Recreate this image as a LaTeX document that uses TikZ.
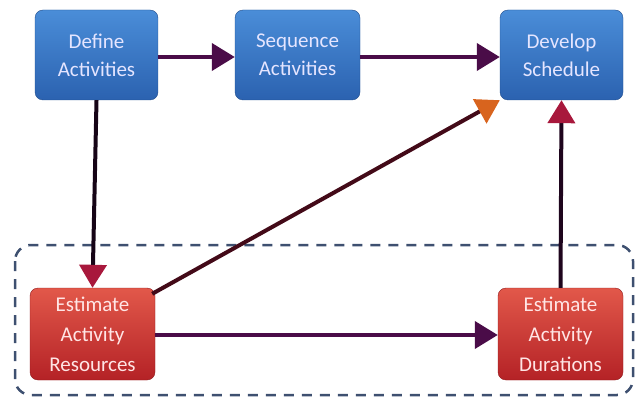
\documentclass[tikz,border=0pt]{standalone}
\usepackage{fontspec}
\setmainfont{Carlito}
\usepackage{xcolor}
\usetikzlibrary{arrows.meta}

\definecolor{boxblue}{HTML}{4A8DD8}
\definecolor{boxbluedark}{HTML}{2B62B0}
\definecolor{boxred}{HTML}{E2584A}
\definecolor{boxreddark}{HTML}{B42226}
\definecolor{arrowpurple}{HTML}{4A0C48}
\definecolor{arrowred}{HTML}{A8183C}
\definecolor{arroworange}{HTML}{D8641E}
\definecolor{dashslate}{HTML}{3E5070}

\tikzset{
  task/.style={rounded corners=8pt, minimum width=123pt, minimum height=90pt,
    inner sep=0pt, align=center, font=\fontsize{21}{28}\selectfont},
  bluetask/.style={task, draw=boxbluedark!80!black, top color=boxblue, bottom color=boxbluedark,
    text=white!90!blue},
  redtask/.style={task, draw=boxreddark!80!black, top color=boxred, bottom color=boxreddark,
    text=white!90!red, font=\fontsize{21}{30}\selectfont},
  flow/.style={line width=4pt, draw=arrowpurple,
    -{Triangle[length=23pt,width=27pt]}},
}

\begin{document}
\begin{tikzpicture}[x=1pt,y=-1pt]
            \useasboundingbox (0,0) rectangle (636,406);

            % Group
            \draw[dashslate, line width=2.5pt, dash pattern=on 10pt off 8pt, rounded corners=16pt]
              (15,245) rectangle (633,395);

            % Nodes
            \node[bluetask] (define) at (96.5,55) {Define\\Activities};
            \node[bluetask, minimum width=125pt] (sequence) at (297.5,55) {Sequence\\Activities};
            \node[bluetask] (develop) at (561.5,55) {Develop\\Schedule};
            \node[redtask, minimum width=125pt, minimum height=92pt] (resources) at (92.5,334) {Estimate\\Activity\\Resources};
            \node[redtask, minimum width=125pt, minimum height=92pt] (durations) at (560.5,334) {Estimate\\Activity\\Durations};

            % Edges
            \draw[flow] (define.east |- 0,57) -- (sequence.west |- 0,57);
            \draw[flow] (sequence.east |- 0,57) -- (develop.west |- 0,57);
            \draw[flow, draw=black!70!arrowpurple, -{Triangle[length=23pt,width=27pt,color=arrowred]}]
              (define.south) -- (resources.north);
            \draw[flow, draw=black!60!arrowred, -{Triangle[length=23pt,width=27pt,color=arroworange]}]
              (resources.north east) ++(-3,6) coordinate (res-corner)
              (res-corner) -- (develop.south west);
            \draw[flow] (resources.east |- 0,335) -- (durations.west |- 0,335);
            \draw[flow, draw=black!60!arrowpurple, -{Triangle[length=23pt,width=27pt,color=arrowred]}]
              (durations.north) -- (develop.south);
        \end{tikzpicture}
\end{document}
